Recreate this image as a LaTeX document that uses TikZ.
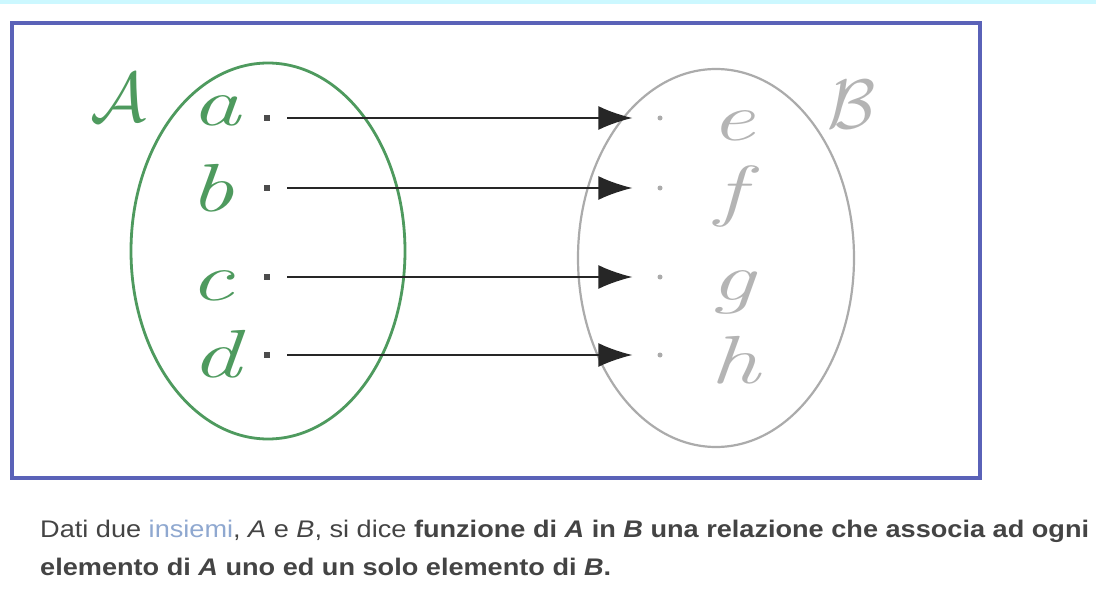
\documentclass[tikz,border=0pt]{standalone}
\usepackage{fontspec}
\usepackage{graphicx}
\newfontfamily\capfont{Liberation Sans}
\usetikzlibrary{arrows.meta,shapes.geometric}
\definecolor{setgreen}{HTML}{4E9A5E}
\definecolor{setgrey}{HTML}{ABABAB}
\definecolor{lettgrey}{HTML}{B4B4B4}
\definecolor{frameblue}{HTML}{5A62B8}
\definecolor{bandcyan}{HTML}{CCF8FF}
\definecolor{linkblue}{HTML}{8FA8D0}
\definecolor{captext}{HTML}{444444}
\newcommand{\wideletter}[1]{\scalebox{1.45}[1]{#1}}
\newcommand{\bigcal}[1]{\scalebox{7}{$\mathcal{#1}$}}
\tikzset{
  setA/.style={ellipse, draw=setgreen, line width=2.8pt, minimum width=274pt, minimum height=376pt, inner sep=0pt},
  setB/.style={ellipse, draw=setgrey, line width=2.2pt, minimum width=276pt, minimum height=378pt, inner sep=0pt},
  adot/.style={rectangle, fill=black!70, minimum size=6pt, inner sep=0pt},
  bdot/.style={circle, fill=setgrey, minimum size=5pt, inner sep=0pt},
  letA/.style={text=setgreen, anchor=base, font=\fontsize{68}{72}\selectfont\itshape},
  letB/.style={text=lettgrey, anchor=base, font=\fontsize{68}{72}\selectfont\itshape},
  setname/.style={inner sep=0pt},
  maparrow/.style={-{Latex[length=34pt,width=24pt]}, line width=1.8pt, draw=black!85, shorten <=17pt, shorten >=25pt},
  captxt/.style={anchor=base west, text=captext, inner sep=0pt, font=\capfont\fontsize{24}{28}\selectfont}
}
\begin{document}
\begin{tikzpicture}[x=1pt,y=-1pt]
\useasboundingbox (0,0) rectangle (1096,602);
\fill[white] (0,0) rectangle (1096,602);
\fill[bandcyan] (0,0) rectangle (1096,4);
\draw[frameblue, line width=3.5pt] (12,23) rectangle (980,478);

\node[setA] (SA) at (268,251) {};
\node[setB] (SB) at (716,258) {};
\node[setname, text=setgreen] (nameA) at (118,98) {\bigcal{A}};
\node[setname, text=lettgrey] (nameB) at (852,105) {\bigcal{B}};

\node[adot] (pa) at (267,118) {};
\node[adot] (pb) at (267,188) {};
\node[adot] (pc) at (267,277) {};
\node[adot] (pd) at (267,355) {};
\node[bdot] (pe) at (660,118) {};
\node[bdot] (pf) at (660,188) {};
\node[bdot] (pg) at (660,277) {};
\node[bdot] (ph) at (660,355) {};

\node[letA] (la) at (216,125) {\wideletter{a}};
\node[letA] (lb) at (212,211) {\wideletter{b}};
\node[letA] (lc) at (212,300) {\wideletter{c}};
\node[letA] (ld) at (216,377) {\wideletter{d}};
\node[letB] (le) at (733,140) {\wideletter{e}};
\node[letB] (lf) at (730,213) {\wideletter{f}};
\node[letB] (lg) at (733,300) {\wideletter{g}};
\node[letB] (lh) at (735,383) {\wideletter{h}};

\draw[maparrow] (pa) -- (pe);
\draw[maparrow] (pb) -- (pf);
\draw[maparrow] (pc) -- (pg);
\draw[maparrow] (pd) -- (ph);

\node[captxt] (cap1) at (40,537) {\scalebox{1.13}[1]{Dati due {\color{linkblue}insiemi}, \textit{A} e \textit{B}, si dice \textbf{funzione di \textit{A} in \textit{B} una relazione che associa ad ogni}}};
\node[captxt] (cap2) at (40,575) {\scalebox{1.13}[1]{\textbf{elemento di \textit{A} uno ed un solo elemento di \textit{B}.}}};
\end{tikzpicture}
\end{document}
